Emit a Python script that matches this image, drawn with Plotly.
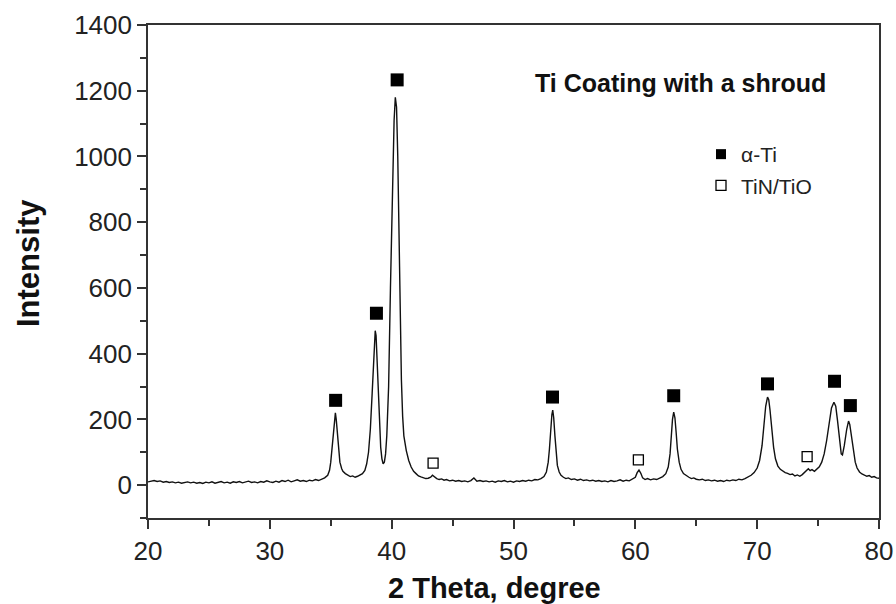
import plotly.graph_objects as go

# XRD pattern (2θ in degrees, intensity)
two_theta = [
    20.0, 20.25, 20.5, 20.75, 21.0, 21.25, 21.5, 21.75, 22.0, 22.25, 22.5, 22.75, 23.0, 23.25, 23.5, 23.75,
    24.0, 24.25, 24.5, 24.75, 25.0, 25.25, 25.5, 25.75, 26.0, 26.25, 26.5, 26.75, 27.0, 27.25, 27.5, 27.75,
    28.0, 28.25, 28.5, 28.75, 29.0, 29.25, 29.5, 29.75, 30.0, 30.25, 30.5, 30.75, 31.0, 31.25, 31.5, 31.75,
    32.0, 32.25, 32.5, 32.75, 33.0, 33.25, 33.5, 33.75, 34.0, 34.25, 34.5, 34.75, 34.9, 35.0, 35.1, 35.2,
    35.3, 35.38, 35.45, 35.55, 35.65, 35.75, 35.9, 36.0, 36.2, 36.4, 36.6, 36.8, 37.0, 37.2, 37.4, 37.6,
    37.8, 37.95, 38.1, 38.25, 38.4, 38.55, 38.65, 38.72, 38.8, 38.9, 39.0, 39.1, 39.2, 39.3, 39.4, 39.5,
    39.6, 39.75, 39.9, 40.05, 40.2, 40.3, 40.4, 40.5, 40.6, 40.7, 40.8, 40.9, 41.0, 41.2, 41.4, 41.6,
    41.8, 42.0, 42.2, 42.4, 42.6, 42.8, 43.0, 43.2, 43.35, 43.5, 43.7, 43.9, 44.1, 44.3, 44.5, 44.75,
    45.0, 45.25, 45.5, 45.75, 46.0, 46.25, 46.5, 46.75, 46.9, 47.0, 47.25, 47.5, 47.75, 48.0, 48.25, 48.5,
    48.75, 49.0, 49.25, 49.5, 49.75, 50.0, 50.25, 50.5, 50.75, 51.0, 51.25, 51.5, 51.75, 52.0, 52.25, 52.5,
    52.7, 52.85, 52.95, 53.05, 53.15, 53.22, 53.3, 53.4, 53.5, 53.6, 53.75, 53.9, 54.1, 54.3, 54.5, 54.75,
    55.0, 55.25, 55.5, 55.75, 56.0, 56.25, 56.5, 56.75, 57.0, 57.25, 57.5, 57.75, 58.0, 58.25, 58.5, 58.75,
    59.0, 59.25, 59.5, 59.75, 60.0, 60.15, 60.3, 60.45, 60.6, 60.8, 61.0, 61.25, 61.5, 61.75, 62.0, 62.25,
    62.5, 62.7, 62.85, 62.95, 63.05, 63.15, 63.25, 63.35, 63.45, 63.6, 63.75, 63.95, 64.2, 64.4, 64.6, 64.8,
    65.0, 65.25, 65.5, 65.75, 66.0, 66.25, 66.5, 66.75, 67.0, 67.25, 67.5, 67.75, 68.0, 68.25, 68.5, 68.75,
    69.0, 69.25, 69.5, 69.75, 70.0, 70.2, 70.4, 70.55, 70.7, 70.85, 70.95, 71.05, 71.2, 71.35, 71.5, 71.7,
    71.9, 72.1, 72.3, 72.5, 72.7, 72.9, 73.1, 73.3, 73.5, 73.7, 73.9, 74.05, 74.2, 74.35, 74.5, 74.7,
    74.9, 75.1, 75.3, 75.5, 75.7, 75.9, 76.1, 76.3, 76.45, 76.6, 76.75, 76.9, 77.0, 77.15, 77.35, 77.5,
    77.6, 77.75, 77.9, 78.05, 78.2, 78.4, 78.6, 78.8, 79.0, 79.2, 79.4, 79.6, 79.8, 80.0,
]
intensity = [
    10, 12, 14, 11, 13, 9, 11, 8, 10, 7, 9, 6, 8, 10, 7, 9,
    6, 8, 5, 9, 7, 10, 6, 8, 11, 7, 9, 6, 10, 8, 11, 7,
    9, 12, 8, 10, 7, 11, 9, 13, 10, 8, 12, 9, 14, 11, 15, 10,
    13, 16, 12, 14, 11, 15, 13, 17, 14, 18, 22, 30, 45, 70, 110, 165,
    205, 220, 200, 150, 100, 70, 50, 42, 35, 30, 26, 28, 24, 27, 30, 35,
    45, 65, 100, 170, 280, 400, 470, 455, 380, 280, 180, 115, 80, 65, 70, 95,
    150, 300, 600, 900, 1110, 1180, 1150, 1000, 750, 500, 320, 210, 150, 105, 75, 55,
    42, 35, 28, 25, 22, 20, 21, 24, 30, 25, 20, 17, 19, 15, 17, 13,
    15, 12, 14, 11, 13, 10, 14, 22, 16, 12, 14, 11, 13, 10, 12, 9,
    13, 11, 14, 10, 12, 9, 13, 11, 14, 12, 15, 13, 17, 16, 20, 26,
    40, 70, 110, 170, 215, 228, 205, 150, 95, 60, 40, 30, 24, 20, 22, 17,
    19, 15, 18, 14, 16, 13, 15, 12, 14, 11, 13, 10, 14, 11, 13, 16,
    12, 15, 13, 18, 24, 38, 46, 36, 22, 17, 20, 16, 19, 17, 22, 26,
    35, 55, 95, 150, 200, 222, 205, 160, 110, 70, 48, 35, 28, 24, 20, 22,
    18, 16, 18, 14, 16, 13, 15, 12, 14, 11, 15, 13, 16, 14, 18, 16,
    20, 24, 30, 38, 52, 75, 120, 180, 240, 268, 260, 230, 170, 115, 80, 58,
    48, 42, 38, 36, 32, 34, 28, 31, 27, 32, 38, 45, 50, 44, 47, 42,
    48, 56, 70, 95, 135, 190, 235, 252, 240, 195, 140, 95, 92, 120, 170, 195,
    185, 145, 100, 70, 52, 40, 34, 30, 27, 29, 24, 26, 22, 21,
]

# Phase marker positions
alpha_ti_x = [35.4, 38.75, 40.45, 53.2, 63.15, 70.85, 76.35, 77.65]
alpha_ti_y = [258, 523, 1233, 268, 272, 308, 316, 242]
tin_tio_x = [43.4, 60.25, 74.1]
tin_tio_y = [67, 77, 87]

x_ticks = [20, 30, 40, 50, 60, 70, 80]
y_ticks = [0, 200, 400, 600, 800, 1000, 1200, 1400]

FONT = "Liberation Sans, Arial, sans-serif"

# plot area in window pixels: x 148..879, y 25..518 (page margin removed below)
L, R, T, B = 148, 879, 25, 518
W, H = 896, 604
PW, PH = R - L, B - T


def px(xw):
    return (xw - L) / PW


def py(yw):
    return (B - yw) / PH


fig = go.Figure()
fig.add_trace(go.Scatter(x=two_theta, y=intensity, mode="lines",
                         line=dict(color="#111111", width=1.4), showlegend=False,
                         hoverinfo="skip"))
fig.add_trace(go.Scatter(x=alpha_ti_x, y=alpha_ti_y, mode="markers",
                         marker=dict(symbol="square", size=13, color="black"),
                         showlegend=False))
fig.add_trace(go.Scatter(x=tin_tio_x, y=tin_tio_y, mode="markers",
                         marker=dict(symbol="square-open", size=10, color="black",
                                     line=dict(width=1.3)),
                         showlegend=False))
# legend entries
fig.add_trace(go.Scatter(x=[None], y=[None], mode="markers", name="α-Ti",
                         legendgroup="a",
                         marker=dict(symbol="square", size=10, color="black")))
fig.add_trace(go.Scatter(x=[None], y=[None], mode="markers", name="TiN/TiO",
                         legendgroup="b",
                         marker=dict(symbol="square-open", size=10, color="black",
                                     line=dict(width=1.3))))

# title inside the plot
fig.add_annotation(text="<b>Ti Coating with a shroud</b>", xref="paper", yref="paper",
                   x=px(680), y=py(83), xanchor="center", yanchor="middle",
                   showarrow=False, font=dict(family=FONT, size=25, color="#111111"))
# axis titles
fig.add_annotation(text="<b>2 Theta, degree</b>", xref="paper", yref="paper",
                   x=px(494), y=py(588), xanchor="center", yanchor="middle",
                   showarrow=False, font=dict(family=FONT, size=29, color="#111111"))
fig.add_annotation(text="<b>Intensity</b>", xref="paper", yref="paper", textangle=-90,
                   x=px(28), y=py(263), xanchor="center", yanchor="middle",
                   showarrow=False, font=dict(family=FONT, size=31, color="#111111"))

axis_common = dict(showline=True, linewidth=1.6, linecolor="#333333", mirror=True,
                   ticks="outside", ticklen=9, tickwidth=1.6, tickcolor="#333333",
                   showgrid=False, zeroline=False, automargin=False,
                   tickfont=dict(family=FONT, size=26, color="#222222"))

fig.update_layout(
    width=W, height=H,
    margin=dict(l=L, r=W - R, t=T, b=H - B),
    paper_bgcolor="white", plot_bgcolor="white",
    xaxis=dict(range=[20, 80], tickvals=x_ticks,
               minor=dict(dtick=5, tick0=20, ticks="outside", ticklen=6, tickcolor="#333333"),
               **axis_common),
    yaxis=dict(range=[-100, 1400], tickvals=y_ticks,
               minor=dict(dtick=100, tick0=0, ticks="outside", ticklen=6, tickcolor="#333333"),
               **axis_common),
    legend=dict(x=px(701), y=py(134), xanchor="left", yanchor="top",
                bgcolor="rgba(0,0,0,0)", tracegroupgap=1,
                font=dict(family=FONT, size=21, color="#222222")),
    showlegend=True,
)

fig.write_html(
    "out.html",
    config={"displayModeBar": False},
    post_script="document.body.style.margin='0';document.body.style.overflow='hidden';",
)
